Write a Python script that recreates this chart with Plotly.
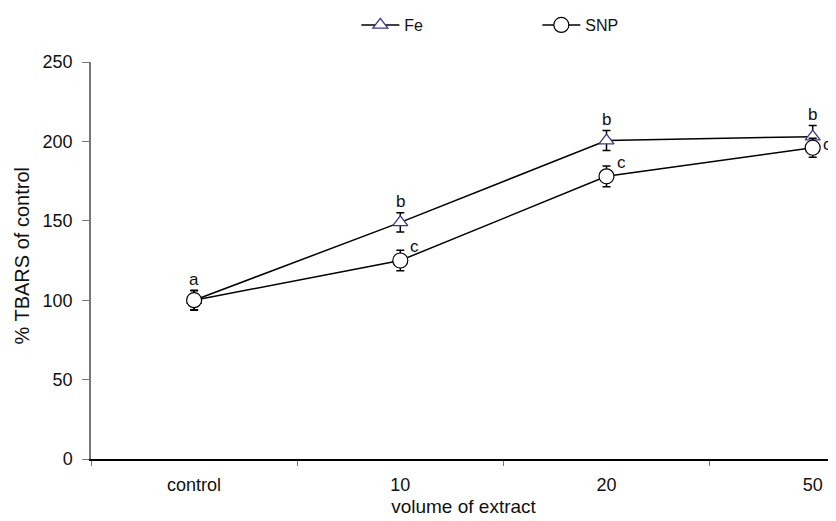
import plotly.graph_objects as go

categories = ["control", "10", "20", "50"]
fe_values = [100, 149, 200.5, 203]
fe_err = [6, 6, 6.3, 7]
snp_values = [100, 125, 178, 196]
snp_err = [6.3, 6.4, 6.5, 6]
fe_letters = ["a", "b", "b", "b"]
snp_letters = ["", "c", "c", "c"]

xpos = list(range(len(categories)))
FONT = "Liberation Sans, Arial, sans-serif"

fig = go.Figure()
fig.add_trace(go.Scatter(
    x=xpos, y=fe_values, name="Fe", mode="lines+markers",
    line=dict(color="black", width=1.5),
    marker=dict(symbol="triangle-up", size=13, color="white",
                line=dict(color="#3a3a8c", width=1.3)),
    error_y=dict(type="data", array=fe_err, color="black", thickness=1.5, width=4),
))
fig.add_trace(go.Scatter(
    x=xpos, y=snp_values, name="SNP", mode="lines+markers",
    line=dict(color="black", width=1.5),
    marker=dict(symbol="circle", size=15, color="white",
                line=dict(color="black", width=1.2)),
    error_y=dict(type="data", array=snp_err, color="black", thickness=1.5, width=4),
))

# significance letters
for i, (lab, v, e) in enumerate(zip(fe_letters, fe_values, fe_err)):
    if lab:
        fig.add_annotation(x=xpos[i], y=v + e, text=lab, showarrow=False,
                           yanchor="bottom", yshift=0,
                           font=dict(family=FONT, size=17, color="#111"))
for i, (lab, v) in enumerate(zip(snp_letters, snp_values)):
    if lab:
        fig.add_annotation(x=xpos[i], y=v, text=lab, showarrow=False,
                           xanchor="left", xshift=8, yshift=14 if i < 3 else 3,
                           font=dict(family=FONT, size=17, color="#111"))

# y axis title as rotated text placed left of the tick labels
fig.add_annotation(xref="paper", yref="paper", x=0, y=0.51, xanchor="center",
                   yanchor="middle", xshift=-69, text="% TBARS of control",
                   textangle=-90, showarrow=False,
                   font=dict(family=FONT, size=20, color="#111"))

fig.update_layout(
    width=828, height=513,
    margin=dict(l=83, r=0, t=54, b=62, autoexpand=False),
    paper_bgcolor="white", plot_bgcolor="white",
    font=dict(family=FONT, size=17, color="#111"),
    showlegend=True,
    legend=dict(orientation="h", xref="container", yref="container",
                x=0.4207, xanchor="left", y=1.0, yanchor="top",
                entrywidth=128, entrywidthmode="pixels",
                font=dict(family=FONT, size=16, color="#111"),
                bgcolor="rgba(0,0,0,0)", tracegroupgap=0, itemwidth=38),
    xaxis=dict(
        range=[-0.5, 3.113], tickmode="array", tickvals=xpos, ticktext=categories,
        ticks="", showgrid=False, zeroline=False, automargin=False,
        showline=True, linecolor="black", linewidth=1.5,
        minor=dict(ticks="outside", tick0=0.5, dtick=1, ticklen=5, tickwidth=1,
                   tickcolor="#777", showgrid=False),
        ticklabelstandoff=9,
        tickfont=dict(family=FONT, size=18, color="#111"),
        title=dict(text="volume of extract", standoff=5,
                   font=dict(family=FONT, size=19, color="#111")),
    ),
    yaxis=dict(
        range=[0, 250], tickvals=[0, 50, 100, 150, 200, 250],
        ticks="outside", ticklen=7, tickwidth=1, tickcolor="#777",
        showgrid=False, zeroline=False, automargin=False,
        showline=True, linecolor="#777", linewidth=1.5,
        ticklabelstandoff=6,
        tickfont=dict(family=FONT, size=18, color="#111"),
    ),
)

fig.write_html("out.html")
